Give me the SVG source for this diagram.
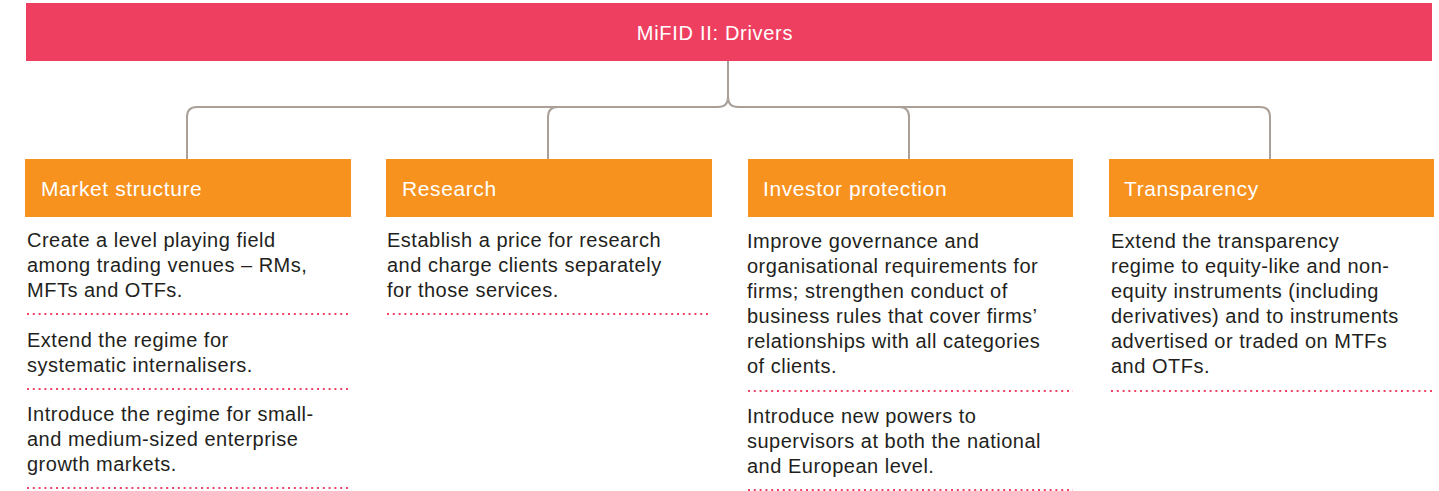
<svg xmlns="http://www.w3.org/2000/svg" width="1439" height="491" viewBox="0 0 1439 491">
  <style>
    .title { font-family: "Liberation Sans", Arial, sans-serif; font-size: 20px; letter-spacing: 0.7px; fill: #ffffff; }
    .head { font-family: "Liberation Sans", Arial, sans-serif; font-size: 21px; letter-spacing: 0.6px; fill: #ffffff; }
    .body { font-family: "Liberation Sans", Arial, sans-serif; font-size: 20px; letter-spacing: 0.5px; fill: #231f20; }
    .bar { fill: #ef3f61; }
    .box { fill: #f7921f; }
    .link { fill: none; stroke: #aaa098; stroke-width: 2; }
    .sep { stroke: #ee4466; stroke-width: 2; stroke-dasharray: 2 3.8; }
  </style>

  <!-- root banner -->
  <g id="root">
    <rect class="bar" x="26" y="3" width="1406" height="58"/>
    <text class="title" x="715" y="40" text-anchor="middle">MiFID II: Drivers</text>
  </g>

  <!-- tree connectors -->
  <g id="connectors">
    <path class="link" d="M728,61 V97 Q728,107 718,107 H197 Q187,107 187,117 V159"/>
    <path class="link" d="M728,97 Q728,107 738,107 H1260 Q1270,107 1270,117 V159"/>
    <path class="link" d="M548,159 V117 Q548,107 558,107"/>
    <path class="link" d="M909,159 V117 Q909,107 899,107"/>
  </g>

  <!-- Market structure -->
  <g id="market-structure">
    <rect class="box" x="25" y="159" width="326" height="58"/>
    <text class="head" x="41" y="196">Market structure</text>
    <text class="body" x="27" y="247">Create a level playing field</text>
    <text class="body" x="27" y="272">among trading venues – RMs,</text>
    <text class="body" x="27" y="297">MFTs and OTFs.</text>
    <line class="sep" x1="27" y1="314" x2="348" y2="314"/>
    <text class="body" x="27" y="347">Extend the regime for</text>
    <text class="body" x="27" y="372">systematic internalisers.</text>
    <line class="sep" x1="27" y1="389" x2="348" y2="389"/>
    <text class="body" x="27" y="421">Introduce the regime for small-</text>
    <text class="body" x="27" y="446">and medium-sized enterprise</text>
    <text class="body" x="27" y="471">growth markets.</text>
    <line class="sep" x1="27" y1="488" x2="348" y2="488"/>
  </g>

  <!-- Research -->
  <g id="research">
    <rect class="box" x="386" y="159" width="326" height="58"/>
    <text class="head" x="402" y="196">Research</text>
    <text class="body" x="387" y="247">Establish a price for research</text>
    <text class="body" x="387" y="272">and charge clients separately</text>
    <text class="body" x="387" y="297">for those services.</text>
    <line class="sep" x1="387" y1="314" x2="709" y2="314"/>
  </g>

  <!-- Investor protection -->
  <g id="investor-protection">
    <rect class="box" x="748" y="159" width="325" height="58"/>
    <text class="head" x="763" y="196">Investor protection</text>
    <text class="body" x="747" y="248">Improve governance and</text>
    <text class="body" x="747" y="273">organisational requirements for</text>
    <text class="body" x="747" y="298">firms; strengthen conduct of</text>
    <text class="body" x="747" y="323">business rules that cover firms’</text>
    <text class="body" x="747" y="348">relationships with all categories</text>
    <text class="body" x="747" y="373">of clients.</text>
    <line class="sep" x1="748" y1="391" x2="1073" y2="391"/>
    <text class="body" x="747" y="423">Introduce new powers to</text>
    <text class="body" x="747" y="448">supervisors at both the national</text>
    <text class="body" x="747" y="473">and European level.</text>
    <line class="sep" x1="748" y1="490" x2="1073" y2="490"/>
  </g>

  <!-- Transparency -->
  <g id="transparency">
    <rect class="box" x="1109" y="159" width="325" height="58"/>
    <text class="head" x="1124" y="196">Transparency</text>
    <text class="body" x="1111" y="248">Extend the transparency</text>
    <text class="body" x="1111" y="273">regime to equity-like and non-</text>
    <text class="body" x="1111" y="298">equity instruments (including</text>
    <text class="body" x="1111" y="323">derivatives) and to instruments</text>
    <text class="body" x="1111" y="348">advertised or traded on MTFs</text>
    <text class="body" x="1111" y="373">and OTFs.</text>
    <line class="sep" x1="1111" y1="391" x2="1434" y2="391"/>
  </g>
</svg>
